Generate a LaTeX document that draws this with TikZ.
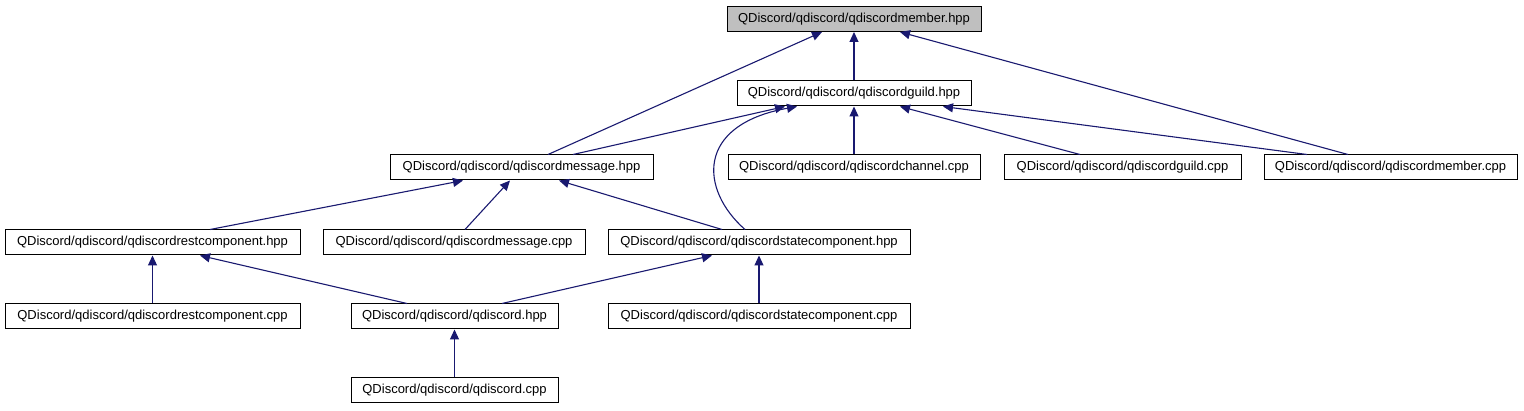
\documentclass[tikz,border=0pt]{standalone}
\usepackage{fontspec}
\setmainfont{Liberation Sans}
\usetikzlibrary{arrows.meta}
\definecolor{edgeblue}{HTML}{191970}
\definecolor{rootgray}{HTML}{BFBFBF}
\tikzset{
  filebox/.style={draw=black, line width=1pt, fill=white, inner sep=0pt,
    minimum height=25pt, font=\fontsize{13}{15}\selectfont, anchor=center},
  rootbox/.style={filebox, fill=rootgray},
  dep/.style={draw=edgeblue, line width=1.1pt,
    -{Triangle[length=10pt,width=9pt]}}
}
\begin{document}
\begin{tikzpicture}[x=1pt,y=-1pt]
\useasboundingbox[fill=white] (0,0) rectangle (1524,411);
% nodes
\node[rootbox, minimum width=254pt] (member) at (854,19) {QDiscord/qdiscord/qdiscordmember.hpp};
\node[filebox, minimum width=234pt] (guild) at (854,93.5) {QDiscord/qdiscord/qdiscordguild.hpp};
\node[filebox, minimum width=263pt] (msg) at (521.5,167.5) {QDiscord/qdiscord/qdiscordmessage.hpp};
\node[filebox, minimum width=252pt] (chan) at (854,167.5) {QDiscord/qdiscord/qdiscordchannel.cpp};
\node[filebox, minimum width=237pt] (guildcpp) at (1122.5,167.5) {QDiscord/qdiscord/qdiscordguild.cpp};
\node[filebox, minimum width=253pt] (membercpp) at (1390.5,167.5) {QDiscord/qdiscord/qdiscordmember.cpp};
\node[filebox, minimum width=295pt] (resthpp) at (152.5,242.5) {QDiscord/qdiscord/qdiscordrestcomponent.hpp};
\node[filebox, minimum width=262pt] (msgcpp) at (454,242.5) {QDiscord/qdiscord/qdiscordmessage.cpp};
\node[filebox, minimum width=302pt] (statehpp) at (759,242.5) {QDiscord/qdiscord/qdiscordstatecomponent.hpp};
\node[filebox, minimum width=295pt] (restcpp) at (152.5,316.5) {QDiscord/qdiscord/qdiscordrestcomponent.cpp};
\node[filebox, minimum width=207pt] (qhpp) at (454.5,316.5) {QDiscord/qdiscord/qdiscord.hpp};
\node[filebox, minimum width=302pt] (statecpp) at (759,316.5) {QDiscord/qdiscord/qdiscordstatecomponent.cpp};
\node[filebox, minimum width=207pt] (qcpp) at (454.5,390.5) {QDiscord/qdiscord/qdiscord.cpp};
% edges
\draw[dep] ([xshift=26.5pt]msg.north) -- ([xshift=-32pt]member.south);
\draw[dep] (guild.north) -- (member.south);
\draw[dep] ([xshift=-42.5pt]membercpp.north) -- ([xshift=46pt]member.south);
\draw[dep] ([xshift=51.5pt]msg.north) -- ([xshift=-69pt]guild.south);
\draw[dep] ([xshift=-14pt]statehpp.north) .. controls (700,190) and (695,125) .. ([xshift=-57pt]guild.south);
\draw[dep] (chan.north) -- (guild.south);
\draw[dep] ([xshift=-42.5pt]guildcpp.north) -- ([xshift=46pt]guild.south);
\draw[dep] ([xshift=-83.5pt]membercpp.north) -- ([xshift=89pt]guild.south);
\draw[dep] ([xshift=57.5pt]resthpp.north) -- ([xshift=-58.5pt]msg.south);
\draw[dep] ([xshift=11pt]msgcpp.north) -- ([xshift=-11.5pt]msg.south);
\draw[dep] ([xshift=-37pt]statehpp.north) -- ([xshift=37.5pt]msg.south);
\draw[dep] (restcpp.north) -- (resthpp.south);
\draw[dep] ([xshift=-47.5pt]qhpp.north) -- ([xshift=47.5pt]resthpp.south);
\draw[dep] ([xshift=47.5pt]qhpp.north) -- ([xshift=-47pt]statehpp.south);
\draw[dep] (statecpp.north) -- (statehpp.south);
\draw[dep] (qcpp.north) -- (qhpp.south);
\end{tikzpicture}
\end{document}
